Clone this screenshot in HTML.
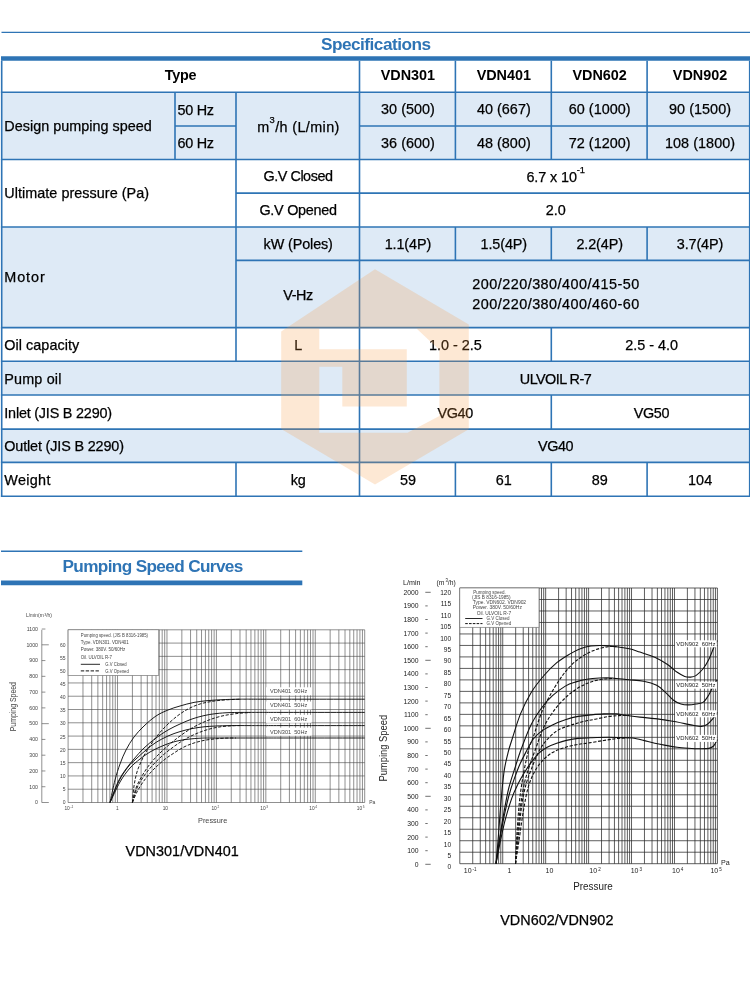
<!DOCTYPE html>
<html lang="en"><head><meta charset="utf-8"><title>Specifications</title>
<style>
html,body{margin:0;padding:0;background:#fff}
body{width:750px;height:981px;position:relative;overflow:hidden;font-family:"Liberation Sans",sans-serif;color:#000}
svg{position:absolute;left:0;top:0;overflow:visible}
.t{position:absolute;white-space:nowrap;font-size:14.4px;line-height:1;box-sizing:border-box;-webkit-text-stroke:0.25px currentColor}
.c{text-align:center}
.l{text-align:left;padding-left:2.6px}
.b{font-weight:bold;-webkit-text-stroke:0}
.t sup{font-size:65%;line-height:0;vertical-align:baseline;position:relative;top:-0.9em}
.ch text{font-family:"Liberation Sans",sans-serif}
</style></head><body>

<svg width="750" height="981" viewBox="0 0 750 981">
<rect x="1.7" y="92.2" width="748.3" height="67.3" fill="#deeaf6"/>
<rect x="1.7" y="227.0" width="748.3" height="100.6" fill="#deeaf6"/>
<rect x="1.7" y="361.3" width="748.3" height="33.7" fill="#deeaf6"/>
<rect x="1.7" y="429.1" width="748.3" height="33.3" fill="#deeaf6"/>
<g stroke="#2e74b5" fill="none">
<path d="M1.5 32.4L750.0 32.4" stroke-width="1.4"/>
<path d="M1.0 58.5L750.0 58.5" stroke-width="4.6"/>
<path d="M1.0 551.2L302.3 551.2" stroke-width="1.6"/>
<path d="M1.0 582.9L302.3 582.9" stroke-width="4.6"/>
<path d="M0.9 92.2L750.0 92.2" stroke-width="1.6"/>
<path d="M175.0 126.0L236.0 126.0" stroke-width="1.6"/>
<path d="M359.5 126.0L750.0 126.0" stroke-width="1.6"/>
<path d="M0.9 159.5L750.0 159.5" stroke-width="1.6"/>
<path d="M236.0 193.1L750.0 193.1" stroke-width="1.6"/>
<path d="M0.9 227.0L750.0 227.0" stroke-width="1.6"/>
<path d="M236.0 260.4L750.0 260.4" stroke-width="1.6"/>
<path d="M0.9 327.6L750.0 327.6" stroke-width="1.6"/>
<path d="M0.9 361.3L750.0 361.3" stroke-width="1.6"/>
<path d="M0.9 395.0L750.0 395.0" stroke-width="1.6"/>
<path d="M0.9 429.1L750.0 429.1" stroke-width="1.6"/>
<path d="M0.9 462.4L750.0 462.4" stroke-width="1.6"/>
<path d="M0.9 496.2L750.0 496.2" stroke-width="1.6"/>
<path d="M1.7 60.7L1.7 497.0" stroke-width="1.6"/>
<path d="M749.7 60.7L749.7 497.0" stroke-width="1.6"/>
<path d="M175.0 92.2L175.0 159.5" stroke-width="1.6"/>
<path d="M236.0 92.2L236.0 361.3" stroke-width="1.6"/>
<path d="M236.0 462.4L236.0 496.2" stroke-width="1.6"/>
<path d="M359.5 60.7L359.5 496.2" stroke-width="1.6"/>
<path d="M455.4 60.7L455.4 159.5" stroke-width="1.6"/>
<path d="M455.4 227.0L455.4 260.4" stroke-width="1.6"/>
<path d="M455.4 462.4L455.4 496.2" stroke-width="1.6"/>
<path d="M647.1 60.7L647.1 159.5" stroke-width="1.6"/>
<path d="M647.1 227.0L647.1 260.4" stroke-width="1.6"/>
<path d="M647.1 462.4L647.1 496.2" stroke-width="1.6"/>
<path d="M551.3 60.7L551.3 159.5" stroke-width="1.6"/>
<path d="M551.3 227.0L551.3 260.4" stroke-width="1.6"/>
<path d="M551.3 327.6L551.3 361.3" stroke-width="1.6"/>
<path d="M551.3 395.0L551.3 429.1" stroke-width="1.6"/>
<path d="M551.3 462.4L551.3 496.2" stroke-width="1.6"/>
</g></svg>
<div class="t c b" style="left:0.0px;top:36.40px;width:752.0px;letter-spacing:-0.50px;font-size:17.2px;color:#2e74b5;text-indent:-0.50px;">Specifications</div>
<div class="t c b" style="left:1.7px;top:67.80px;width:357.8px;letter-spacing:-0.22px;text-indent:-0.22px;">Type</div>
<div class="t c b" style="left:360.0px;top:67.80px;width:95.9px;letter-spacing:0.00px;text-indent:0.00px;">VDN301</div>
<div class="t c b" style="left:455.9px;top:67.80px;width:95.9px;letter-spacing:0.00px;text-indent:0.00px;">VDN401</div>
<div class="t c b" style="left:551.8px;top:67.80px;width:95.8px;letter-spacing:0.00px;text-indent:0.00px;">VDN602</div>
<div class="t c b" style="left:647.6px;top:67.80px;width:104.9px;letter-spacing:0.00px;text-indent:0.00px;">VDN902</div>
<div class="t l" style="left:1.7px;top:118.80px;width:173.3px;letter-spacing:0.02px;">Design pumping speed</div>
<div class="t l" style="left:175.0px;top:102.80px;width:61.0px;letter-spacing:-0.29px;">50 Hz</div>
<div class="t l" style="left:175.0px;top:135.80px;width:61.0px;letter-spacing:-0.29px;">60 Hz</div>
<div class="t c" style="left:236.5px;top:119.80px;width:123.5px;letter-spacing:0.38px;text-indent:0.38px;">m<sup>3</sup>/h (L/min)</div>
<div class="t c" style="left:360.0px;top:101.80px;width:95.9px;letter-spacing:0.03px;text-indent:0.03px;">30 (500)</div>
<div class="t c" style="left:360.0px;top:135.80px;width:95.9px;letter-spacing:0.03px;text-indent:0.03px;">36 (600)</div>
<div class="t c" style="left:455.9px;top:101.80px;width:95.9px;letter-spacing:0.03px;text-indent:0.03px;">40 (667)</div>
<div class="t c" style="left:455.9px;top:135.80px;width:95.9px;letter-spacing:0.03px;text-indent:0.03px;">48 (800)</div>
<div class="t c" style="left:551.8px;top:101.80px;width:95.8px;letter-spacing:0.04px;text-indent:0.04px;">60 (1000)</div>
<div class="t c" style="left:551.8px;top:135.80px;width:95.8px;letter-spacing:0.04px;text-indent:0.04px;">72 (1200)</div>
<div class="t c" style="left:647.6px;top:101.80px;width:104.9px;letter-spacing:0.04px;text-indent:0.04px;">90 (1500)</div>
<div class="t c" style="left:647.6px;top:135.80px;width:104.9px;letter-spacing:0.05px;text-indent:0.05px;">108 (1800)</div>
<div class="t l" style="left:1.7px;top:185.80px;width:234.3px;letter-spacing:0.04px;">Ultimate pressure (Pa)</div>
<div class="t c" style="left:236.5px;top:168.80px;width:123.5px;letter-spacing:-0.47px;text-indent:-0.47px;">G.V Closed</div>
<div class="t c" style="left:236.5px;top:202.80px;width:123.5px;letter-spacing:-0.26px;text-indent:-0.26px;">G.V Opened</div>
<div class="t c" style="left:359.5px;top:169.80px;width:392.5px;letter-spacing:-0.10px;text-indent:-0.10px;">6.7 x 10<sup>-1</sup></div>
<div class="t c" style="left:359.5px;top:202.80px;width:392.5px;letter-spacing:0.08px;text-indent:0.08px;">2.0</div>
<div class="t l" style="left:1.7px;top:269.80px;width:234.3px;letter-spacing:0.91px;">Motor</div>
<div class="t c" style="left:236.5px;top:236.80px;width:123.5px;letter-spacing:-0.12px;text-indent:-0.12px;">kW (Poles)</div>
<div class="t c" style="left:360.0px;top:236.80px;width:95.9px;letter-spacing:-0.12px;text-indent:-0.12px;">1.1(4P)</div>
<div class="t c" style="left:455.9px;top:236.80px;width:95.9px;letter-spacing:-0.12px;text-indent:-0.12px;">1.5(4P)</div>
<div class="t c" style="left:551.8px;top:236.80px;width:95.8px;letter-spacing:-0.12px;text-indent:-0.12px;">2.2(4P)</div>
<div class="t c" style="left:647.6px;top:236.80px;width:104.9px;letter-spacing:-0.12px;text-indent:-0.12px;">3.7(4P)</div>
<div class="t c" style="left:236.5px;top:287.80px;width:123.5px;letter-spacing:-0.43px;text-indent:-0.43px;">V-Hz</div>
<div class="t c" style="left:359.5px;top:276.80px;width:392.5px;letter-spacing:0.48px;text-indent:0.48px;">200/220/380/400/415-50</div>
<div class="t c" style="left:359.5px;top:296.80px;width:392.5px;letter-spacing:0.48px;text-indent:0.48px;">200/220/380/400/460-60</div>
<div class="t l" style="left:1.7px;top:337.80px;width:234.3px;letter-spacing:0.05px;">Oil capacity</div>
<div class="t c" style="left:236.5px;top:337.80px;width:123.5px;letter-spacing:-1.28px;text-indent:-1.28px;">L</div>
<div class="t c" style="left:359.5px;top:337.80px;width:191.8px;letter-spacing:-0.02px;text-indent:-0.02px;">1.0 - 2.5</div>
<div class="t c" style="left:551.3px;top:337.80px;width:200.7px;letter-spacing:-0.02px;text-indent:-0.02px;">2.5 - 4.0</div>
<div class="t l" style="left:1.7px;top:371.80px;width:357.8px;letter-spacing:0.16px;">Pump oil</div>
<div class="t c" style="left:359.5px;top:371.80px;width:392.5px;letter-spacing:-0.54px;text-indent:-0.54px;">ULVOIL R-7</div>
<div class="t l" style="left:1.7px;top:405.80px;width:357.8px;letter-spacing:-0.20px;">Inlet (JIS B 2290)</div>
<div class="t c" style="left:359.5px;top:405.80px;width:191.8px;letter-spacing:-0.40px;text-indent:-0.40px;">VG40</div>
<div class="t c" style="left:551.3px;top:405.80px;width:200.7px;letter-spacing:-0.40px;text-indent:-0.40px;">VG50</div>
<div class="t l" style="left:1.7px;top:438.80px;width:357.8px;letter-spacing:-0.15px;">Outlet (JIS B 2290)</div>
<div class="t c" style="left:359.5px;top:438.80px;width:392.5px;letter-spacing:-0.40px;text-indent:-0.40px;">VG40</div>
<div class="t l" style="left:1.7px;top:472.80px;width:234.3px;letter-spacing:0.32px;">Weight</div>
<div class="t c" style="left:236.5px;top:472.80px;width:123.5px;letter-spacing:-0.20px;text-indent:-0.20px;">kg</div>
<div class="t c" style="left:360.0px;top:472.80px;width:95.9px;letter-spacing:0.10px;text-indent:0.10px;">59</div>
<div class="t c" style="left:455.9px;top:472.80px;width:95.9px;letter-spacing:0.10px;text-indent:0.10px;">61</div>
<div class="t c" style="left:551.8px;top:472.80px;width:95.8px;letter-spacing:0.10px;text-indent:0.10px;">89</div>
<div class="t c" style="left:647.6px;top:472.80px;width:104.9px;letter-spacing:0.10px;text-indent:0.10px;">104</div>
<div class="t c b" style="left:62.8px;top:558.40px;width:180.2px;letter-spacing:-0.64px;font-size:17.2px;color:#2e74b5;text-indent:-0.64px;">Pumping Speed Curves</div>
<div class="t c" style="left:125.5px;top:843.80px;width:112.5px;letter-spacing:0.04px;text-indent:0.04px;">VDN301/VDN401</div>
<div class="t c" style="left:500.1px;top:912.80px;width:111.2px;letter-spacing:0.04px;text-indent:0.04px;">VDN602/VDN902</div>
<svg class="ch" width="750" height="981" viewBox="0 0 750 981" fill="#444">
<path d="M68.10 629.8V802.5M82.98 629.8V802.5M91.69 629.8V802.5M97.86 629.8V802.5M102.65 629.8V802.5M106.57 629.8V802.5M109.88 629.8V802.5M112.74 629.8V802.5M115.27 629.8V802.5M117.53 629.8V802.5M132.41 629.8V802.5M141.12 629.8V802.5M147.30 629.8V802.5M152.09 629.8V802.5M156.00 629.8V802.5M159.31 629.8V802.5M162.18 629.8V802.5M164.70 629.8V802.5M166.97 629.8V802.5M181.85 629.8V802.5M190.55 629.8V802.5M196.73 629.8V802.5M201.52 629.8V802.5M205.43 629.8V802.5M208.74 629.8V802.5M211.61 629.8V802.5M214.14 629.8V802.5M216.40 629.8V802.5M231.28 629.8V802.5M239.99 629.8V802.5M246.16 629.8V802.5M250.95 629.8V802.5M254.87 629.8V802.5M258.18 629.8V802.5M261.04 629.8V802.5M263.57 629.8V802.5M265.83 629.8V802.5M280.71 629.8V802.5M289.42 629.8V802.5M295.60 629.8V802.5M300.39 629.8V802.5M304.30 629.8V802.5M307.61 629.8V802.5M310.48 629.8V802.5M313.00 629.8V802.5M315.27 629.8V802.5M330.15 629.8V802.5M338.85 629.8V802.5M345.03 629.8V802.5M349.82 629.8V802.5M353.73 629.8V802.5M357.04 629.8V802.5M359.91 629.8V802.5M362.44 629.8V802.5M364.70 629.8V802.5M68.1 802.50H364.7M68.1 789.22H364.7M68.1 775.93H364.7M68.1 762.65H364.7M68.1 749.36H364.7M68.1 736.08H364.7M68.1 722.79H364.7M68.1 709.51H364.7M68.1 696.22H364.7M68.1 682.94H364.7M68.1 669.65H364.7M68.1 656.37H364.7M68.1 643.08H364.7M68.1 629.80H364.7" stroke="#444" stroke-width="0.6" fill="none"/>
<path d="M110.0 802.5C110.8 798.8 113.3 786.4 115.0 780.0C116.7 773.6 118.2 769.0 120.0 764.0C121.8 759.0 123.7 754.5 126.0 750.0C128.3 745.5 131.0 741.0 134.0 737.0C137.0 733.0 140.3 729.5 144.0 726.0C147.7 722.5 152.0 718.7 156.0 716.0C160.0 713.3 164.0 711.7 168.0 710.0C172.0 708.3 175.7 707.3 180.0 706.0C184.3 704.7 189.3 703.3 194.0 702.4C198.7 701.5 203.0 701.1 208.0 700.6C213.0 700.1 218.7 699.8 224.0 699.6C229.3 699.4 232.3 699.3 240.0 699.2C247.7 699.1 249.2 699.2 270.0 699.2C290.8 699.2 348.9 699.2 364.7 699.2" stroke="#111" stroke-width="0.95" fill="none"/>
<path d="M110.0 802.5C111.3 799.1 115.3 787.6 118.0 782.0C120.7 776.4 123.3 772.8 126.0 769.0C128.7 765.2 131.0 762.5 134.0 759.0C137.0 755.5 140.3 751.5 144.0 748.0C147.7 744.5 152.0 741.0 156.0 738.0C160.0 735.0 164.0 732.3 168.0 730.0C172.0 727.7 176.0 725.8 180.0 724.0C184.0 722.2 188.0 720.4 192.0 719.0C196.0 717.6 200.0 716.5 204.0 715.6C208.0 714.7 211.7 714.1 216.0 713.6C220.3 713.1 224.3 712.8 230.0 712.6C235.7 712.4 241.7 712.4 250.0 712.4C258.3 712.4 260.9 712.4 280.0 712.4C299.1 712.4 350.6 712.4 364.7 712.4" stroke="#111" stroke-width="0.95" fill="none"/>
<path d="M110.0 802.5C111.5 798.9 116.0 786.9 119.0 781.0C122.0 775.1 125.2 770.7 128.0 767.0C130.8 763.3 133.0 761.8 136.0 759.0C139.0 756.2 142.7 752.8 146.0 750.0C149.3 747.2 152.3 744.7 156.0 742.4C159.7 740.1 164.0 737.8 168.0 736.0C172.0 734.2 176.0 732.8 180.0 731.6C184.0 730.4 188.0 729.4 192.0 728.6C196.0 727.8 200.0 727.2 204.0 726.8C208.0 726.4 211.7 726.2 216.0 726.0C220.3 725.8 224.3 725.7 230.0 725.6C235.7 725.5 241.7 725.6 250.0 725.6C258.3 725.6 260.9 725.6 280.0 725.6C299.1 725.6 350.6 725.6 364.7 725.6" stroke="#111" stroke-width="0.95" fill="none"/>
<path d="M110.0 802.5C111.7 799.1 116.7 787.8 120.0 782.0C123.3 776.2 126.7 771.8 130.0 768.0C133.3 764.2 136.7 761.7 140.0 759.0C143.3 756.3 146.7 754.0 150.0 752.0C153.3 750.0 156.7 748.5 160.0 747.0C163.3 745.5 166.7 744.1 170.0 743.0C173.3 741.9 176.7 741.1 180.0 740.4C183.3 739.7 186.7 739.4 190.0 739.0C193.3 738.6 196.3 738.4 200.0 738.2C203.7 738.0 203.7 738.0 212.0 738.0C220.3 738.0 238.7 738.0 250.0 738.0C261.3 738.0 260.9 738.0 280.0 738.0C299.1 738.0 350.6 738.0 364.7 738.0" stroke="#111" stroke-width="0.95" fill="none"/>
<path d="M132.4 802.5C132.7 799.8 133.2 791.1 134.0 786.0C134.8 780.9 135.8 776.0 137.0 772.0C138.2 768.0 139.5 765.3 141.0 762.0C142.5 758.7 143.8 755.7 146.0 752.0C148.2 748.3 151.0 744.0 154.0 740.0C157.0 736.0 160.3 731.8 164.0 728.0C167.7 724.2 172.0 720.2 176.0 717.0C180.0 713.8 184.0 711.2 188.0 709.0C192.0 706.8 196.0 705.3 200.0 704.0C204.0 702.7 208.0 702.1 212.0 701.4C216.0 700.7 219.3 700.4 224.0 700.0C228.7 699.6 237.3 699.3 240.0 699.2" stroke="#111" stroke-width="0.95" stroke-dasharray="3.2 1.6" fill="none"/>
<path d="M132.4 802.5C133.0 800.1 134.4 792.4 136.0 788.0C137.6 783.6 139.7 780.0 142.0 776.0C144.3 772.0 147.0 767.8 150.0 764.0C153.0 760.2 156.7 756.3 160.0 753.0C163.3 749.7 166.7 746.8 170.0 744.0C173.3 741.2 176.3 738.7 180.0 736.0C183.7 733.3 188.0 730.3 192.0 728.0C196.0 725.7 200.0 723.7 204.0 722.0C208.0 720.3 212.0 718.8 216.0 717.6C220.0 716.4 224.0 715.5 228.0 714.8C232.0 714.1 236.3 713.6 240.0 713.2C243.7 712.8 248.3 712.7 250.0 712.6" stroke="#111" stroke-width="0.95" stroke-dasharray="3.2 1.6" fill="none"/>
<path d="M132.4 802.5C133.2 800.1 135.1 792.4 137.0 788.0C138.9 783.6 141.5 779.7 144.0 776.0C146.5 772.3 149.0 769.3 152.0 766.0C155.0 762.7 158.7 759.0 162.0 756.0C165.3 753.0 168.7 750.5 172.0 748.0C175.3 745.5 178.7 743.1 182.0 741.0C185.3 738.9 188.7 737.2 192.0 735.6C195.3 734.0 198.7 732.6 202.0 731.4C205.3 730.2 208.7 729.2 212.0 728.4C215.3 727.6 218.7 727.0 222.0 726.6C225.3 726.2 229.0 726.0 232.0 725.8C235.0 725.6 238.7 725.6 240.0 725.6" stroke="#111" stroke-width="0.95" stroke-dasharray="3.2 1.6" fill="none"/>
<path d="M132.4 802.5C133.3 800.4 135.7 794.1 138.0 790.0C140.3 785.9 143.3 781.5 146.0 778.0C148.7 774.5 151.0 772.0 154.0 769.0C157.0 766.0 160.7 762.7 164.0 760.0C167.3 757.3 170.7 755.2 174.0 753.0C177.3 750.8 180.7 748.7 184.0 747.0C187.3 745.3 190.7 744.1 194.0 743.0C197.3 741.9 200.7 741.1 204.0 740.4C207.3 739.7 210.7 739.4 214.0 739.0C217.3 738.6 220.3 738.4 224.0 738.2C227.7 738.0 234.0 738.0 236.0 738.0" stroke="#111" stroke-width="0.95" stroke-dasharray="3.2 1.6" fill="none"/>
<rect x="68.1" y="629.8" width="90.6" height="45.6" fill="#fff" stroke="#777" stroke-width="0.7"/>
<rect x="266.0" y="687.3" width="45.5" height="8.0" fill="#fff"/>
<rect x="266.0" y="701.5" width="45.5" height="8.0" fill="#fff"/>
<rect x="266.0" y="714.8" width="45.5" height="8.0" fill="#fff"/>
<rect x="266.0" y="727.7" width="45.5" height="8.0" fill="#fff"/>
<text transform="translate(38.0 804.3) scale(0.520)" font-size="10" text-anchor="end">0</text>
<text transform="translate(38.0 788.5) scale(0.520)" font-size="10" text-anchor="end">100</text>
<text transform="translate(38.0 772.8) scale(0.520)" font-size="10" text-anchor="end">200</text>
<text transform="translate(38.0 757.0) scale(0.520)" font-size="10" text-anchor="end">300</text>
<text transform="translate(38.0 741.2) scale(0.520)" font-size="10" text-anchor="end">400</text>
<text transform="translate(38.0 725.4) scale(0.520)" font-size="10" text-anchor="end">500</text>
<text transform="translate(38.0 709.7) scale(0.520)" font-size="10" text-anchor="end">600</text>
<text transform="translate(38.0 693.9) scale(0.520)" font-size="10" text-anchor="end">700</text>
<text transform="translate(38.0 678.1) scale(0.520)" font-size="10" text-anchor="end">800</text>
<text transform="translate(38.0 662.4) scale(0.520)" font-size="10" text-anchor="end">900</text>
<text transform="translate(38.0 646.6) scale(0.520)" font-size="10" text-anchor="end">1000</text>
<text transform="translate(38.0 630.8) scale(0.520)" font-size="10" text-anchor="end">1100</text>
<path d="M41.8 629.8V802.5M41.8 802.50h7M41.8 786.73h3.6M41.8 770.96h3.6M41.8 755.19h3.6M41.8 739.42h3.6M41.8 723.65h7M41.8 707.88h3.6M41.8 692.11h3.6M41.8 676.34h3.6M41.8 660.57h3.6M41.8 644.80h7M41.8 629.03h3.6" stroke="#555" stroke-width="0.65" fill="none"/>
<text transform="translate(65.6 804.3) scale(0.500)" font-size="10" text-anchor="end">0</text>
<text transform="translate(65.6 791.1) scale(0.500)" font-size="10" text-anchor="end">5</text>
<text transform="translate(65.6 778.0) scale(0.500)" font-size="10" text-anchor="end">10</text>
<text transform="translate(65.6 764.8) scale(0.500)" font-size="10" text-anchor="end">15</text>
<text transform="translate(65.6 751.7) scale(0.500)" font-size="10" text-anchor="end">20</text>
<text transform="translate(65.6 738.5) scale(0.500)" font-size="10" text-anchor="end">25</text>
<text transform="translate(65.6 725.4) scale(0.500)" font-size="10" text-anchor="end">30</text>
<text transform="translate(65.6 712.2) scale(0.500)" font-size="10" text-anchor="end">35</text>
<text transform="translate(65.6 699.1) scale(0.500)" font-size="10" text-anchor="end">40</text>
<text transform="translate(65.6 685.9) scale(0.500)" font-size="10" text-anchor="end">45</text>
<text transform="translate(65.6 672.8) scale(0.500)" font-size="10" text-anchor="end">50</text>
<text transform="translate(65.6 659.6) scale(0.500)" font-size="10" text-anchor="end">55</text>
<text transform="translate(65.6 646.5) scale(0.500)" font-size="10" text-anchor="end">60</text>
<text transform="translate(26.0 617.3) scale(0.500)" font-size="10" textLength="52.0" lengthAdjust="spacingAndGlyphs">L/min(m<tspan dx="1.5" dy="-3.6" font-size="6.5">3</tspan><tspan dy="3.6">/h)</tspan></text>
<text transform="translate(15.6 731.3) rotate(-90) scale(0.880)" font-size="10" textLength="56.0" lengthAdjust="spacingAndGlyphs">Pumping Speed</text>
<text transform="translate(198.0 822.8) scale(0.740)" font-size="10" textLength="39.6" lengthAdjust="spacingAndGlyphs">Pressure</text>
<text transform="translate(369.2 804.3) scale(0.500)" font-size="10">Pa</text>
<text transform="translate(68.8 809.6) scale(0.480)" font-size="10" text-anchor="middle">10<tspan dx="1.5" dy="-3.6" font-size="6.5">-1</tspan></text>
<text transform="translate(117.3 809.6) scale(0.480)" font-size="10" text-anchor="middle">1</text>
<text transform="translate(165.3 809.6) scale(0.480)" font-size="10" text-anchor="middle">10</text>
<text transform="translate(215.3 809.6) scale(0.480)" font-size="10" text-anchor="middle">10<tspan dx="1.5" dy="-3.6" font-size="6.5">2</tspan></text>
<text transform="translate(264.1 809.6) scale(0.480)" font-size="10" text-anchor="middle">10<tspan dx="1.5" dy="-3.6" font-size="6.5">3</tspan></text>
<text transform="translate(313.2 809.6) scale(0.480)" font-size="10" text-anchor="middle">10<tspan dx="1.5" dy="-3.6" font-size="6.5">4</tspan></text>
<text transform="translate(360.7 809.6) scale(0.480)" font-size="10" text-anchor="middle">10<tspan dx="1.5" dy="-3.6" font-size="6.5">5</tspan></text>
<text transform="translate(80.8 637.3) scale(0.460)" font-size="10" textLength="146.1" lengthAdjust="spacingAndGlyphs" fill="#444">Pumping speed. (JIS B 8316-1985)</text>
<text transform="translate(80.8 644.2) scale(0.460)" font-size="10" textLength="104.3" lengthAdjust="spacingAndGlyphs" fill="#444">Type. VDN301. VDN401</text>
<text transform="translate(80.8 651.4) scale(0.460)" font-size="10" textLength="96.7" lengthAdjust="spacingAndGlyphs" fill="#444">Power. 380V. 50/60Hz</text>
<text transform="translate(80.8 658.6) scale(0.460)" font-size="10" textLength="67.8" lengthAdjust="spacingAndGlyphs" fill="#444">Oil. ULVOIL R-7</text>
<text transform="translate(105.3 665.5) scale(0.460)" font-size="10" textLength="46.5" lengthAdjust="spacingAndGlyphs" fill="#444">G.V Closed</text>
<text transform="translate(105.3 672.5) scale(0.460)" font-size="10" textLength="51.1" lengthAdjust="spacingAndGlyphs" fill="#444">G.V Opened</text>
<path d="M80.8 664.3H100" stroke="#111" stroke-width="0.9"/>
<path d="M80.8 670.9H100" stroke="#111" stroke-width="1" stroke-dasharray="3.4 1.5"/>
<text transform="translate(270.0 693.1) scale(0.520)" font-size="10" textLength="71.7" lengthAdjust="spacingAndGlyphs" xml:space="preserve">VDN401  60Hz</text>
<text transform="translate(270.0 707.3) scale(0.520)" font-size="10" textLength="71.7" lengthAdjust="spacingAndGlyphs" xml:space="preserve">VDN401  50Hz</text>
<text transform="translate(270.0 720.6) scale(0.520)" font-size="10" textLength="71.7" lengthAdjust="spacingAndGlyphs" xml:space="preserve">VDN301  60Hz</text>
<text transform="translate(270.0 733.5) scale(0.520)" font-size="10" textLength="71.7" lengthAdjust="spacingAndGlyphs" xml:space="preserve">VDN301  50Hz</text>
</svg>
<svg class="ch" width="750" height="981" viewBox="0 0 750 981" fill="#222">
<path d="M459.80 588.0V863.7M472.72 588.0V863.7M480.28 588.0V863.7M485.65 588.0V863.7M489.81 588.0V863.7M493.21 588.0V863.7M496.08 588.0V863.7M498.57 588.0V863.7M500.77 588.0V863.7M502.73 588.0V863.7M515.66 588.0V863.7M523.22 588.0V863.7M528.58 588.0V863.7M532.74 588.0V863.7M536.14 588.0V863.7M539.02 588.0V863.7M541.51 588.0V863.7M543.70 588.0V863.7M545.67 588.0V863.7M558.59 588.0V863.7M566.15 588.0V863.7M571.52 588.0V863.7M575.68 588.0V863.7M579.08 588.0V863.7M581.95 588.0V863.7M584.44 588.0V863.7M586.64 588.0V863.7M588.60 588.0V863.7M601.52 588.0V863.7M609.08 588.0V863.7M614.45 588.0V863.7M618.61 588.0V863.7M622.01 588.0V863.7M624.88 588.0V863.7M627.37 588.0V863.7M629.57 588.0V863.7M631.53 588.0V863.7M644.46 588.0V863.7M652.02 588.0V863.7M657.38 588.0V863.7M661.54 588.0V863.7M664.94 588.0V863.7M667.82 588.0V863.7M670.31 588.0V863.7M672.50 588.0V863.7M674.47 588.0V863.7M687.39 588.0V863.7M694.95 588.0V863.7M700.32 588.0V863.7M704.48 588.0V863.7M707.88 588.0V863.7M710.75 588.0V863.7M713.24 588.0V863.7M715.44 588.0V863.7M717.40 588.0V863.7M459.8 863.70H717.4M459.8 852.21H717.4M459.8 840.73H717.4M459.8 829.24H717.4M459.8 817.75H717.4M459.8 806.26H717.4M459.8 794.78H717.4M459.8 783.29H717.4M459.8 771.80H717.4M459.8 760.31H717.4M459.8 748.83H717.4M459.8 737.34H717.4M459.8 725.85H717.4M459.8 714.36H717.4M459.8 702.88H717.4M459.8 691.39H717.4M459.8 679.90H717.4M459.8 668.41H717.4M459.8 656.92H717.4M459.8 645.44H717.4M459.8 633.95H717.4M459.8 622.46H717.4M459.8 610.98H717.4M459.8 599.49H717.4M459.8 588.00H717.4" stroke="#2a2a2a" stroke-width="0.75" fill="none"/>
<path d="M496.0 863.7C496.4 859.1 497.6 846.0 498.4 836.0C499.2 826.0 499.9 814.7 500.8 804.0C501.7 793.3 502.8 780.5 504.0 772.0C505.2 763.5 506.7 758.2 508.0 752.8C509.3 747.4 509.9 746.0 512.0 739.5C514.1 733.0 517.3 721.7 520.5 713.9C523.7 706.1 527.3 698.9 531.2 692.5C535.1 686.1 539.7 680.5 544.0 675.5C548.3 670.5 552.5 666.3 556.8 662.7C561.1 659.1 565.7 656.4 569.6 654.1C573.5 651.8 576.8 650.1 580.3 648.8C583.8 647.4 587.0 646.5 590.9 646.0C594.8 645.5 599.4 645.5 603.7 645.6C608.0 645.7 612.2 646.2 616.5 646.7C620.8 647.2 625.4 647.9 629.3 648.8C633.2 649.7 635.6 650.7 639.9 652.1C644.1 653.5 650.1 655.2 654.8 657.3C659.5 659.4 664.2 662.3 667.9 664.8C671.6 667.3 674.4 670.4 677.2 672.3C680.0 674.2 682.5 675.6 684.7 676.4C686.9 677.2 688.4 677.2 690.3 677.1C692.2 677.0 693.7 677.0 695.9 675.6C698.1 674.2 701.1 671.2 703.3 668.5C705.5 665.8 707.2 662.6 708.9 659.2C710.6 655.8 712.2 651.1 713.6 648.0C715.0 644.9 716.7 641.8 717.3 640.5" stroke="#111" stroke-width="1.1" fill="none"/>
<path d="M496.0 863.7C496.7 859.1 498.7 844.6 500.0 836.0C501.3 827.4 502.5 820.0 504.0 812.0C505.5 804.0 506.9 795.5 508.8 788.0C510.7 780.5 513.1 773.9 515.2 767.2C517.3 760.5 518.9 755.1 521.6 748.0C524.3 740.9 527.8 731.2 531.2 724.5C534.6 717.8 538.4 712.3 541.9 707.5C545.4 702.7 548.6 699.3 552.5 695.7C556.4 692.1 561.4 688.4 565.3 686.1C569.2 683.8 572.4 683.0 576.0 681.9C579.6 680.8 582.8 679.9 586.7 679.3C590.6 678.6 595.2 678.2 599.5 678.0C603.8 677.8 607.4 677.7 612.3 678.0C617.2 678.3 623.5 679.2 628.7 679.7C633.9 680.2 638.9 680.3 643.6 681.2C648.3 682.1 653.0 683.4 656.7 685.3C660.4 687.2 663.2 690.3 666.0 692.8C668.8 695.3 671.0 698.4 673.5 700.3C676.0 702.2 678.4 703.2 680.9 704.0C683.4 704.8 685.9 704.9 688.4 704.9C690.9 704.9 693.4 704.5 695.9 704.0C698.4 703.5 701.1 703.6 703.3 702.1C705.5 700.6 707.2 697.5 708.9 694.7C710.6 691.9 712.2 687.8 713.6 685.3C715.0 682.8 716.7 680.6 717.3 679.7" stroke="#111" stroke-width="1.1" fill="none"/>
<path d="M496.0 863.7C496.7 859.4 498.7 845.4 500.0 837.6C501.3 829.8 502.5 823.7 504.0 816.8C505.5 809.9 507.1 802.4 508.8 796.0C510.5 789.6 512.5 783.7 514.4 778.4C516.3 773.1 518.0 768.5 520.0 764.0C522.0 759.5 524.2 755.4 526.4 751.2C528.6 747.0 530.7 742.4 533.3 739.0C535.9 735.6 538.7 733.2 541.9 730.9C545.1 728.6 548.6 726.9 552.5 725.0C556.4 723.1 561.0 721.2 565.3 719.8C569.6 718.4 573.8 717.2 578.1 716.4C582.4 715.6 586.6 715.3 590.9 714.9C595.2 714.5 599.4 714.1 603.7 713.9C608.0 713.7 613.0 713.7 616.5 713.9C620.0 714.1 621.0 714.7 624.9 715.2C628.8 715.7 634.9 716.5 639.9 717.1C644.9 717.7 649.8 718.0 654.8 718.6C659.8 719.2 664.7 720.0 669.7 720.8C674.7 721.6 680.7 722.8 684.7 723.6C688.8 724.4 691.2 725.0 694.0 725.5C696.8 726.0 699.3 726.6 701.5 726.4C703.7 726.2 705.2 725.8 707.1 724.5C709.0 723.2 711.0 720.9 712.7 718.9C714.4 716.9 716.5 713.5 717.3 712.4" stroke="#111" stroke-width="1.1" fill="none"/>
<path d="M496.0 863.7C496.8 859.6 499.2 846.8 500.8 839.2C502.4 831.7 503.7 825.3 505.6 818.4C507.5 811.5 509.9 803.5 512.0 797.6C514.1 791.7 516.3 787.5 518.4 783.2C520.5 778.9 522.7 775.5 524.8 772.0C526.9 768.5 528.8 765.6 531.2 762.4C533.6 759.2 536.5 755.3 539.2 752.8C541.9 750.3 544.3 748.8 547.2 747.2C550.1 745.6 553.6 744.3 556.8 743.2C560.0 742.1 562.8 741.2 566.4 740.4C570.0 739.6 574.0 738.8 578.1 738.4C582.2 738.0 585.9 738.0 590.9 737.8C595.9 737.6 603.0 737.3 608.0 737.3C613.0 737.3 617.1 737.5 621.2 737.6C625.3 737.7 628.7 737.5 632.4 738.0C636.1 738.5 639.9 739.5 643.6 740.4C647.3 741.3 651.1 742.4 654.8 743.2C658.5 744.0 662.3 744.7 666.0 745.4C669.7 746.1 673.5 746.8 677.2 747.3C680.9 747.8 684.7 748.0 688.4 748.2C692.1 748.5 696.2 748.8 699.6 748.8C703.0 748.8 706.6 748.9 708.9 748.4C711.2 747.9 712.2 747.5 713.6 746.0C715.0 744.5 716.7 740.6 717.3 739.5" stroke="#111" stroke-width="1.1" fill="none"/>
<path d="M515.5 863.7C515.7 859.1 516.2 846.0 516.8 836.0C517.4 826.0 518.3 813.3 519.2 804.0C520.1 794.7 521.2 787.5 522.4 780.0C523.6 772.5 525.2 764.8 526.4 759.2C527.6 753.6 528.5 750.1 529.6 746.4C530.8 742.7 531.2 742.8 533.3 737.0C535.3 731.2 539.0 718.8 541.9 711.7C544.8 704.7 547.2 700.4 550.4 694.7C553.6 689.0 557.5 682.6 561.0 677.6C564.5 672.6 568.1 668.3 571.7 664.8C575.3 661.2 578.5 658.8 582.4 656.3C586.3 653.8 590.9 651.5 595.2 649.9C599.5 648.3 604.5 647.2 608.0 646.7C611.5 646.2 615.1 646.7 616.5 646.7" stroke="#111" stroke-width="1.1" stroke-dasharray="3.2 1.6" fill="none"/>
<path d="M515.5 863.7C515.9 859.1 516.7 846.0 517.6 836.0C518.5 826.0 519.6 813.1 520.8 804.0C522.0 794.9 523.3 788.0 524.8 781.6C526.3 775.2 527.9 770.9 529.6 765.6C531.3 760.3 532.8 756.5 535.2 750.0C537.6 743.5 540.8 733.4 544.0 726.7C547.2 720.0 551.2 714.4 554.7 709.6C558.2 704.8 561.8 701.3 565.3 697.9C568.8 694.5 572.4 691.7 576.0 689.3C579.6 686.9 583.2 685.1 586.7 683.6C590.2 682.1 593.8 681.0 597.3 680.2C600.8 679.4 604.8 679.0 608.0 678.7C611.2 678.4 615.1 678.5 616.5 678.5" stroke="#111" stroke-width="1.1" stroke-dasharray="3.2 1.6" fill="none"/>
<path d="M515.5 863.7C516.0 859.1 517.3 846.0 518.4 836.0C519.5 826.0 520.6 812.8 521.9 804.0C523.2 795.2 524.8 789.0 526.4 783.2C528.0 777.5 529.3 774.4 531.2 769.5C533.1 764.6 535.3 758.6 537.6 754.0C539.9 749.4 541.8 745.9 545.0 742.0C548.2 738.1 552.7 733.6 556.8 730.9C560.9 728.2 565.3 727.1 569.6 725.6C573.9 724.1 578.1 722.9 582.4 721.8C586.7 720.7 590.9 720.1 595.2 719.2C599.5 718.3 604.1 717.2 608.0 716.6C611.9 716.0 615.2 715.8 618.7 715.6C622.2 715.4 627.5 715.4 629.3 715.4" stroke="#111" stroke-width="1.1" stroke-dasharray="3.2 1.6" fill="none"/>
<path d="M515.5 863.7C516.1 859.6 517.9 847.8 519.2 839.2C520.5 830.6 521.7 820.5 523.2 812.0C524.7 803.5 526.1 794.7 528.0 788.0C529.9 781.3 532.0 776.5 534.4 772.0C536.8 767.5 539.5 764.0 542.4 760.8C545.3 757.6 548.5 754.9 552.0 752.8C555.5 750.7 559.2 749.3 563.2 748.0C567.2 746.7 571.7 745.6 576.0 744.8C580.3 743.9 584.2 743.6 588.8 742.9C593.4 742.2 599.1 741.2 603.7 740.5C608.3 739.8 612.2 739.1 616.5 738.6C620.8 738.1 627.2 737.7 629.3 737.5" stroke="#111" stroke-width="1.1" stroke-dasharray="3.2 1.6" fill="none"/>
<rect x="459.8" y="588.0" width="79.2" height="39.3" fill="#fff" stroke="#777" stroke-width="0.7"/>
<rect x="675.0" y="640.3" width="41.8" height="7.0" fill="#fff"/>
<rect x="675.0" y="681.7" width="41.8" height="7.0" fill="#fff"/>
<rect x="675.0" y="710.3" width="41.8" height="7.0" fill="#fff"/>
<rect x="675.0" y="734.9" width="41.8" height="7.0" fill="#fff"/>
<text transform="translate(418.6 866.7) scale(0.680)" font-size="10" text-anchor="end">0</text>
<text transform="translate(418.6 853.1) scale(0.680)" font-size="10" text-anchor="end">100</text>
<text transform="translate(418.6 839.5) scale(0.680)" font-size="10" text-anchor="end">200</text>
<text transform="translate(418.6 825.9) scale(0.680)" font-size="10" text-anchor="end">300</text>
<text transform="translate(418.6 812.3) scale(0.680)" font-size="10" text-anchor="end">400</text>
<text transform="translate(418.6 798.7) scale(0.680)" font-size="10" text-anchor="end">500</text>
<text transform="translate(418.6 785.1) scale(0.680)" font-size="10" text-anchor="end">600</text>
<text transform="translate(418.6 771.5) scale(0.680)" font-size="10" text-anchor="end">700</text>
<text transform="translate(418.6 757.9) scale(0.680)" font-size="10" text-anchor="end">800</text>
<text transform="translate(418.6 744.3) scale(0.680)" font-size="10" text-anchor="end">900</text>
<text transform="translate(418.6 730.7) scale(0.680)" font-size="10" text-anchor="end">1000</text>
<text transform="translate(418.6 717.1) scale(0.680)" font-size="10" text-anchor="end">1100</text>
<text transform="translate(418.6 703.5) scale(0.680)" font-size="10" text-anchor="end">1200</text>
<text transform="translate(418.6 689.9) scale(0.680)" font-size="10" text-anchor="end">1300</text>
<text transform="translate(418.6 676.3) scale(0.680)" font-size="10" text-anchor="end">1400</text>
<text transform="translate(418.6 662.7) scale(0.680)" font-size="10" text-anchor="end">1500</text>
<text transform="translate(418.6 649.1) scale(0.680)" font-size="10" text-anchor="end">1600</text>
<text transform="translate(418.6 635.5) scale(0.680)" font-size="10" text-anchor="end">1700</text>
<text transform="translate(418.6 621.9) scale(0.680)" font-size="10" text-anchor="end">1800</text>
<text transform="translate(418.6 608.3) scale(0.680)" font-size="10" text-anchor="end">1900</text>
<text transform="translate(418.6 594.7) scale(0.680)" font-size="10" text-anchor="end">2000</text>
<path d="M425.3 864.30h5.4M425.3 850.70h2.4M425.3 837.10h2.4M425.3 823.50h2.4M425.3 809.90h2.4M425.3 796.30h5.4M425.3 782.70h2.4M425.3 769.10h2.4M425.3 755.50h2.4M425.3 741.90h2.4M425.3 728.30h5.4M425.3 714.70h2.4M425.3 701.10h2.4M425.3 687.50h2.4M425.3 673.90h2.4M425.3 660.30h5.4M425.3 646.70h2.4M425.3 633.10h2.4M425.3 619.50h2.4M425.3 605.90h2.4M425.3 592.30h5.4" stroke="#333" stroke-width="0.7" fill="none"/>
<text transform="translate(451.2 869.4) scale(0.660)" font-size="10" text-anchor="end">0</text>
<text transform="translate(451.2 858.0) scale(0.660)" font-size="10" text-anchor="end">5</text>
<text transform="translate(451.2 846.5) scale(0.660)" font-size="10" text-anchor="end">10</text>
<text transform="translate(451.2 835.1) scale(0.660)" font-size="10" text-anchor="end">15</text>
<text transform="translate(451.2 823.6) scale(0.660)" font-size="10" text-anchor="end">20</text>
<text transform="translate(451.2 812.2) scale(0.660)" font-size="10" text-anchor="end">25</text>
<text transform="translate(451.2 800.7) scale(0.660)" font-size="10" text-anchor="end">30</text>
<text transform="translate(451.2 789.3) scale(0.660)" font-size="10" text-anchor="end">35</text>
<text transform="translate(451.2 777.8) scale(0.660)" font-size="10" text-anchor="end">40</text>
<text transform="translate(451.2 766.4) scale(0.660)" font-size="10" text-anchor="end">45</text>
<text transform="translate(451.2 754.9) scale(0.660)" font-size="10" text-anchor="end">50</text>
<text transform="translate(451.2 743.5) scale(0.660)" font-size="10" text-anchor="end">55</text>
<text transform="translate(451.2 732.0) scale(0.660)" font-size="10" text-anchor="end">60</text>
<text transform="translate(451.2 720.6) scale(0.660)" font-size="10" text-anchor="end">65</text>
<text transform="translate(451.2 709.2) scale(0.660)" font-size="10" text-anchor="end">70</text>
<text transform="translate(451.2 697.7) scale(0.660)" font-size="10" text-anchor="end">75</text>
<text transform="translate(451.2 686.3) scale(0.660)" font-size="10" text-anchor="end">80</text>
<text transform="translate(451.2 674.8) scale(0.660)" font-size="10" text-anchor="end">85</text>
<text transform="translate(451.2 663.4) scale(0.660)" font-size="10" text-anchor="end">90</text>
<text transform="translate(451.2 651.9) scale(0.660)" font-size="10" text-anchor="end">95</text>
<text transform="translate(451.2 640.5) scale(0.660)" font-size="10" text-anchor="end">100</text>
<text transform="translate(451.2 629.0) scale(0.660)" font-size="10" text-anchor="end">105</text>
<text transform="translate(451.2 617.6) scale(0.660)" font-size="10" text-anchor="end">110</text>
<text transform="translate(451.2 606.1) scale(0.660)" font-size="10" text-anchor="end">115</text>
<text transform="translate(451.2 594.7) scale(0.660)" font-size="10" text-anchor="end">120</text>
<text transform="translate(403.0 584.6) scale(0.680)" font-size="10" textLength="25.7" lengthAdjust="spacingAndGlyphs">L/min</text>
<text transform="translate(436.5 584.6) scale(0.680)" font-size="10" textLength="28.2" lengthAdjust="spacingAndGlyphs">(m<tspan dx="1.5" dy="-3.6" font-size="6.5">3</tspan><tspan dy="3.6">/h)</tspan></text>
<text transform="translate(387.1 781.6) rotate(-90) scale(1.120)" font-size="10" textLength="59.6" lengthAdjust="spacingAndGlyphs">Pumping Speed</text>
<text transform="translate(573.2 889.9) scale(1.040)" font-size="10" textLength="38.0" lengthAdjust="spacingAndGlyphs">Pressure</text>
<text transform="translate(721.0 865.3) scale(0.740)" font-size="10" textLength="11.8" lengthAdjust="spacingAndGlyphs">Pa</text>
<text transform="translate(470.2 873.2) scale(0.700)" font-size="10" text-anchor="middle">10<tspan dx="1.5" dy="-3.6" font-size="6.5">-1</tspan></text>
<text transform="translate(509.4 873.2) scale(0.700)" font-size="10" text-anchor="middle">1</text>
<text transform="translate(549.5 873.2) scale(0.700)" font-size="10" text-anchor="middle">10</text>
<text transform="translate(595.0 873.2) scale(0.700)" font-size="10" text-anchor="middle">10<tspan dx="1.5" dy="-3.6" font-size="6.5">2</tspan></text>
<text transform="translate(636.4 873.2) scale(0.700)" font-size="10" text-anchor="middle">10<tspan dx="1.5" dy="-3.6" font-size="6.5">3</tspan></text>
<text transform="translate(677.7 873.2) scale(0.700)" font-size="10" text-anchor="middle">10<tspan dx="1.5" dy="-3.6" font-size="6.5">4</tspan></text>
<text transform="translate(716.1 873.2) scale(0.700)" font-size="10" text-anchor="middle">10<tspan dx="1.5" dy="-3.6" font-size="6.5">5</tspan></text>
<text transform="translate(473.3 593.6) scale(0.460)" font-size="10" textLength="70.4" lengthAdjust="spacingAndGlyphs" fill="#444">Pumping speed.</text>
<text transform="translate(472.1 599.0) scale(0.460)" font-size="10" textLength="83.7" lengthAdjust="spacingAndGlyphs" fill="#444">(JIS B 8316-1985)</text>
<text transform="translate(472.8 604.2) scale(0.460)" font-size="10" textLength="115.9" lengthAdjust="spacingAndGlyphs" fill="#444">Type. VDN602. VDN902</text>
<text transform="translate(472.8 609.4) scale(0.460)" font-size="10" textLength="106.7" lengthAdjust="spacingAndGlyphs" fill="#444">Power. 380V. 50/60Hz</text>
<text transform="translate(476.7 614.6) scale(0.460)" font-size="10" textLength="74.8" lengthAdjust="spacingAndGlyphs" fill="#444">Oil. ULVOIL R-7</text>
<text transform="translate(486.6 620.0) scale(0.460)" font-size="10" textLength="50.0" lengthAdjust="spacingAndGlyphs" fill="#444">G.V Closed</text>
<text transform="translate(486.6 625.2) scale(0.460)" font-size="10" textLength="53.3" lengthAdjust="spacingAndGlyphs" fill="#444">G.V Opened</text>
<path d="M465.2 618.5H482.5" stroke="#111" stroke-width="0.9"/>
<path d="M465.2 623.6H482.5" stroke="#111" stroke-width="1" stroke-dasharray="2.6 1.2"/>
<text transform="translate(676.3 645.7) scale(0.500)" font-size="10" textLength="78.4" lengthAdjust="spacingAndGlyphs" xml:space="preserve">VDN902  60Hz</text>
<text transform="translate(676.3 687.1) scale(0.500)" font-size="10" textLength="78.4" lengthAdjust="spacingAndGlyphs" xml:space="preserve">VDN902  50Hz</text>
<text transform="translate(676.3 715.7) scale(0.500)" font-size="10" textLength="78.4" lengthAdjust="spacingAndGlyphs" xml:space="preserve">VDN602  60Hz</text>
<text transform="translate(676.3 740.3) scale(0.500)" font-size="10" textLength="78.4" lengthAdjust="spacingAndGlyphs" xml:space="preserve">VDN602  50Hz</text>
</svg>
<svg width="750" height="981" viewBox="0 0 750 981" style="pointer-events:none">
<path fill="#f6963c" fill-opacity="0.22" fill-rule="evenodd" d="M375 269.2L468.8 324.5L468.8 429.3L375 484.6L281.2 429L281.2 331.5Z
M319.3 328.6L416.5 328.6L439.4 350L439.4 416L407.5 432.7L319.3 432.7Z
M319.3 349.3L406.8 349.3L406.8 406.5L342.3 406.5L342.3 366.7L319.3 366.7Z"/>
</svg>
</body></html>
